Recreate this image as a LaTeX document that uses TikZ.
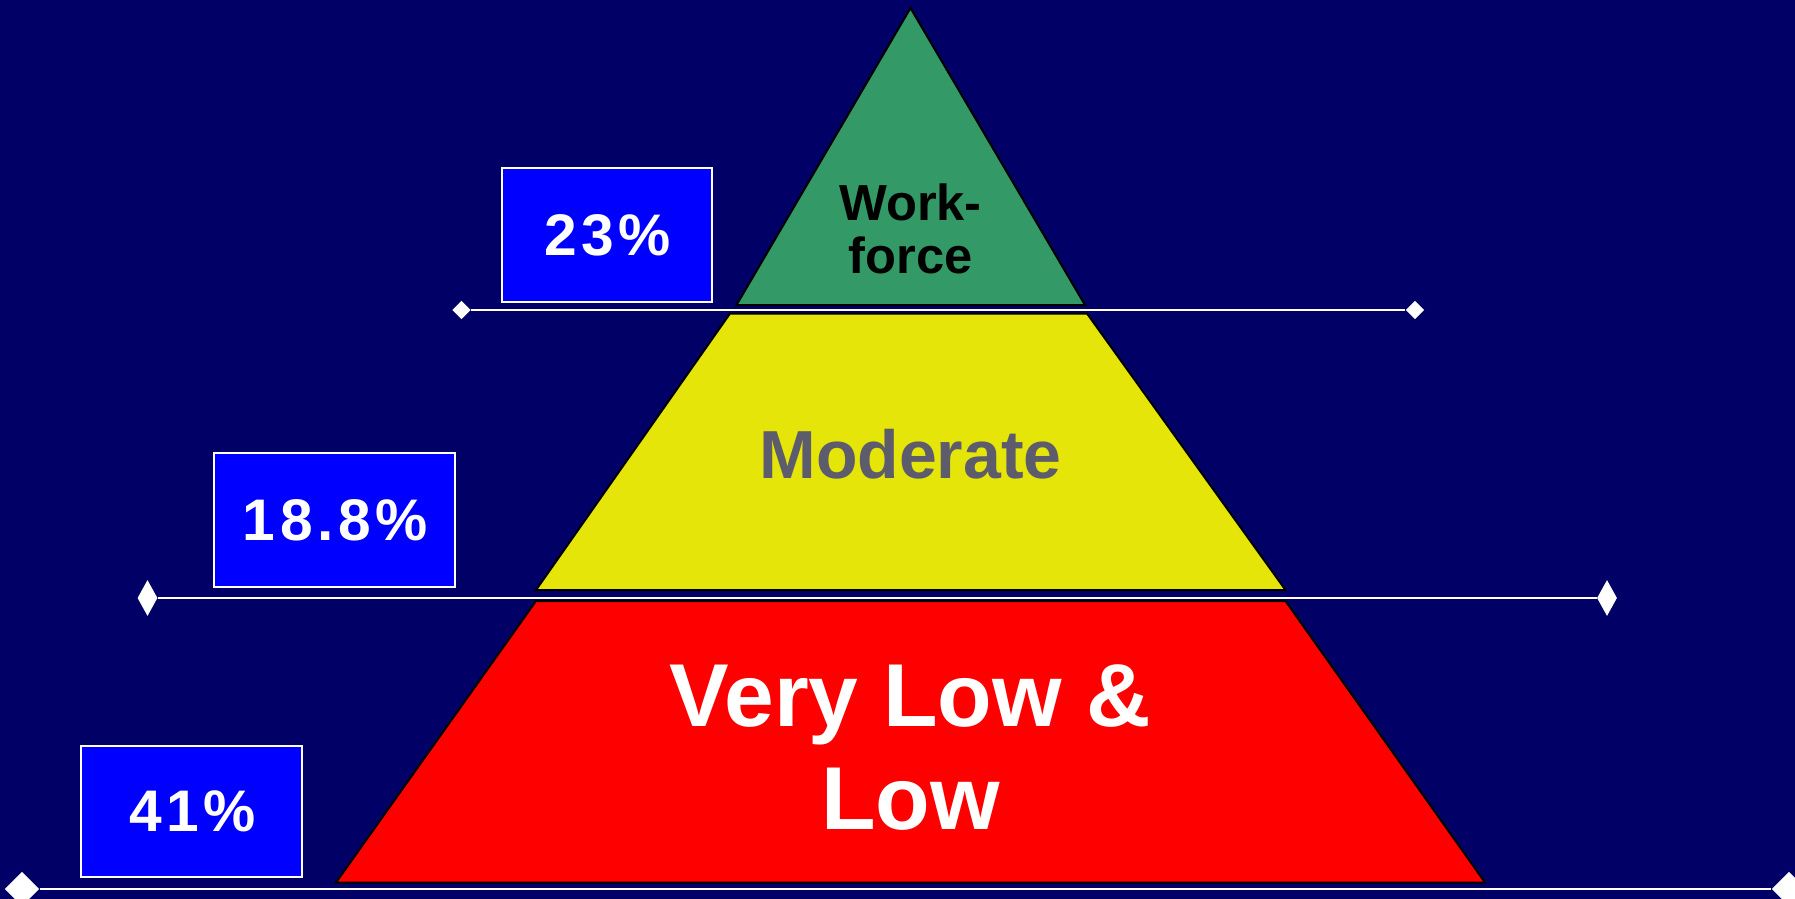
\documentclass[tikz,border=0pt]{standalone}
\usepackage{fontspec}
\setmainfont{Liberation Sans}
\newfontfamily\pctfont[LetterSpace=8]{Liberation Sans}
\usetikzlibrary{shapes.geometric}
\definecolor{navy}{RGB}{0,0,102}
\definecolor{tiergreen}{RGB}{51,153,102}
\definecolor{tieryellow}{RGB}{229,229,10}
\definecolor{tierred}{RGB}{255,0,0}
\definecolor{boxblue}{RGB}{0,0,255}
\definecolor{labelgray}{RGB}{92,92,108}
% balances the trailing letter space of the percentage font
\newcommand{\pctlead}{\kern 1.5pt}
\tikzset{
  tier/.style={draw=black, line width=1.5pt, line join=miter},
  pctbox/.style={draw=white, fill=boxblue, line width=1.5pt, inner sep=0pt,
    text=white, font=\pctfont\bfseries\fontsize{44}{48}\selectfont},
  tip/.style={diamond, fill=white, inner sep=0pt},
  level/.style={draw=white, line width=1.5pt},
}
\begin{document}
\begin{tikzpicture}[x=0.75pt,y=-0.75pt]
  % page and background
  \fill[navy] (0,0) rectangle (1795,899);
  \useasboundingbox (0,0) rectangle (1795,899);

  % pyramid tiers
  \filldraw[tier, fill=tiergreen] (910.5,8) -- (1085,305) -- (736.5,305) -- cycle;
  \filldraw[tier, fill=tieryellow] (730,313.5) -- (1087,313.5) -- (1285.5,590) -- (536,590) -- cycle;
  \filldraw[tier, fill=tierred] (536,601) -- (1285.5,601) -- (1485,882.5) -- (336,882.5) -- cycle;

  % tier labels
  \node[anchor=base, inner sep=0pt, font=\bfseries\fontsize{38}{41}\selectfont] (work1) at (910.5,220) {Work-};
  \node[anchor=base, inner sep=0pt, font=\bfseries\fontsize{38}{41}\selectfont] (work2) at (910.5,273.5) {force};
  \node[anchor=base, inner sep=0pt, text=labelgray, font=\bfseries\fontsize{51}{55}\selectfont] (moderate) at (910.5,478) {Moderate};
  \node[anchor=base, inner sep=0pt, text=white, font=\bfseries\fontsize{67}{75}\selectfont] (low1) at (910.5,726) {Very Low \&};
  \node[anchor=base, inner sep=0pt, text=white, font=\bfseries\fontsize{67}{75}\selectfont] (low2) at (910.5,829) {Low};

  % level lines with diamond ends
  \node[tip, minimum width=14, minimum height=14] (l1a) at (461.5,310) {};
  \node[tip, minimum width=14, minimum height=14] (l1b) at (1415,310) {};
  \draw[level] (l1a) -- (l1b);
  \node[tip, minimum width=15, minimum height=27] (l2a) at (147.5,598) {};
  \node[tip, minimum width=15, minimum height=27] (l2b) at (1607,598) {};
  \draw[level] (l2a) -- (l2b);
  \node[tip, minimum width=26, minimum height=26] (l3a) at (22,889) {};
  \node[tip, minimum width=26, minimum height=26] (l3b) at (1789,889) {};
  \draw[level] (l3a) -- (l3b);

  % percentage boxes
  \node[pctbox, minimum width=209.5*0.75pt, minimum height=133.5*0.75pt] (p1) at (606.75,235) {\pctlead 23\%};
  \node[pctbox, minimum width=241.5*0.75pt, minimum height=134*0.75pt] (p2) at (334.25,520) {\pctlead 18.8\%};
  \node[pctbox, minimum width=221*0.75pt, minimum height=131*0.75pt] (p3) at (191.5,811) {\pctlead 41\%};
\end{tikzpicture}
\end{document}
